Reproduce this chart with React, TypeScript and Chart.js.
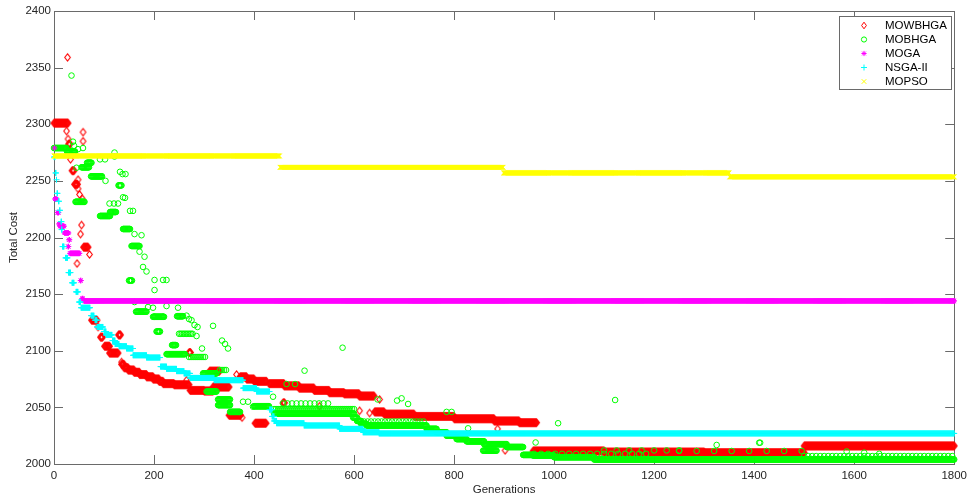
import React, { useEffect, useRef } from 'react';
import { Chart, registerables } from 'chart.js';

Chart.register(...registerables);

type Run = [number, number, number, number?]; // [fromGen, toGen, value, every?]
type Pt = [number, number]; // [gen, value]

const xTickValues = [0, 200, 400, 600, 800, 1000, 1200, 1400, 1600, 1800];
const yTickValues = [2000, 2050, 2100, 2150, 2200, 2250, 2300, 2350, 2400];
const seriesNames = ['MOWBHGA', 'MOBHGA', 'MOGA', 'NSGA-II', 'MOPSO'];
const xTitle = 'Generations';
const yTitle = 'Total Cost';

// MOWBHGA (red diamonds)
const mowbhgaRuns: Run[] = [
  [0, 28, 2301], [29, 32, 2282.5], [36, 40, 2259], [41, 47, 2247], [59, 68, 2191.5],
  [75, 86, 2127], [93, 97, 2112], [101, 111, 2104], [111, 128, 2098], [129, 133, 2114],
  [135, 140, 2088], [140, 148, 2085], [148, 160, 2083], [160, 171, 2081], [171, 185, 2079],
  [185, 198, 2077], [198, 210, 2075], [210, 218, 2073], [218, 240, 2071], [240, 270, 2070],
  [270, 273, 2098.5], [272, 300, 2065], [300, 318, 2064.5], [311, 331, 2082], [318, 350, 2068],
  [350, 373, 2043], [372, 385, 2077], [385, 400, 2075], [400, 425, 2073], [402, 424, 2036],
  [430, 460, 2071], [458, 461, 2054], [460, 490, 2069], [490, 520, 2067], [520, 550, 2065],
  [550, 580, 2063], [580, 610, 2062], [610, 640, 2060], [641, 660, 2046], [660, 720, 2044],
  [720, 800, 2042], [800, 880, 2040], [880, 930, 2038], [930, 965, 2036.5],
  [958, 1100, 2011.5], [1100, 1300, 2010.5], [1300, 1500, 2010], [1500, 1800, 2016],
];
const mowbhgaPoints: Pt[] = [
  [25, 2294], [27, 2359], [28, 2287], [33, 2269], [46, 2177], [48, 2251], [48, 2243], [51, 2238],
  [53, 2203], [55, 2211], [57, 2234], [58, 2293], [58, 2285], [71, 2185], [88, 2121], [135, 2090],
  [265, 2074], [365, 2079], [376, 2041], [531, 2051], [611, 2047], [631, 2045], [651, 2057],
  [887, 2031], [902, 2012],
];

// MOBHGA (green circles)
const mobhgaRuns: Run[] = [
  [0, 25, 2279], [26, 42, 2276], [43, 61, 2231.5], [55, 70, 2262], [66, 75, 2266], [74, 96, 2254],
  [92, 112, 2219], [112, 124, 2222.5], [129, 135, 2246], [138, 152, 2207.5], [150, 156, 2162],
  [155, 171, 2192.5], [164, 185, 2134.5], [198, 220, 2130], [205, 212, 2117], [225, 262, 2097],
  [236, 244, 2105], [246, 258, 2130.5], [250, 278, 2115, 3], [270, 305, 2094.5, 4], [298, 325, 2080],
  [305, 325, 2064], [332, 346, 2083, 4], [328, 352, 2057], [328, 352, 2052], [352, 372, 2046],
  [400, 430, 2051], [440, 600, 2048.5, 4], [440, 600, 2044.5], [458, 552, 2053.5, 9],
  [598, 606, 2041], [606, 614, 2038], [614, 625, 2035.5], [625, 745, 2034], [620, 745, 2037.5, 7],
  [745, 765, 2031], [765, 785, 2028], [785, 805, 2025], [805, 825, 2022], [825, 860, 2020],
  [860, 905, 2017.5], [858, 885, 2011.8], [905, 938, 2015], [938, 958, 2008], [958, 1000, 2007.5],
  [1000, 1080, 2006], [1080, 1800, 2004], [960, 1190, 2009, 14], [1100, 1250, 2012, 25],
  [1250, 1500, 2011.5, 35], [1500, 1800, 2007, 8],
];
const mobhgaPoints: Pt[] = [
  [35, 2343], [38, 2284.6], [40, 2281], [48, 2278], [58, 2279], [45, 2261.6], [92, 2269], [102, 2269],
  [121, 2275], [121, 2271.5], [132, 2258], [137, 2256], [143, 2256], [103, 2250], [138, 2235.5],
  [142, 2235], [111, 2230], [120, 2230], [128, 2230], [152, 2223.5], [158, 2223.5], [161, 2203],
  [175, 2202], [171, 2187.5], [181, 2183], [178, 2174], [185, 2170], [201, 2162.5], [218, 2162.5],
  [225, 2162.5], [201, 2153.6], [161, 2143], [188, 2138.6], [198, 2138], [225, 2139.5], [248, 2138],
  [201, 2130], [218, 2130], [265, 2131], [270, 2128], [275, 2127], [281, 2122.7], [287, 2121],
  [318, 2122], [285, 2113], [296, 2102], [336, 2109], [342, 2106], [348, 2102], [378, 2055],
  [388, 2055], [398, 2050.6], [438, 2059.4], [465, 2070.6], [482, 2070.6], [501, 2082.4],
  [577, 2102.7], [647, 2057], [686, 2056], [695, 2058], [708, 2053], [785, 2046], [795, 2046],
  [828, 2031.5], [963, 2019], [1008, 2036], [1122, 2056.5], [1325, 2016.8], [1410, 2018.8],
  [1412, 2018.8], [1585, 2011], [1620, 2010], [1650, 2009],
];

// MOGA (magenta asterisks)
const mogaRuns: Run[] = [
  [1, 1, 2279], [2, 5, 2234], [7, 9, 2222], [10, 12, 2212], [12, 20, 2210], [21, 29, 2204],
  [28, 29, 2192], [30, 31, 2198], [32, 51, 2186], [53, 54, 2162], [56, 58, 2146], [60, 1800, 2144],
];
const mogaPoints: Pt[] = [];

// NSGA-II (cyan plus)
const nsgaRuns: Run[] = [
  [0, 2, 2271], [3, 4, 2257], [5, 5, 2251], [6, 7, 2239], [9, 10, 2232], [11, 12, 2224],
  [14, 15, 2214], [15, 16, 2207], [17, 20, 2192], [23, 27, 2182], [29, 33, 2169], [36, 40, 2160],
  [44, 48, 2152], [50, 53, 2143], [54, 72, 2138], [74, 80, 2131], [82, 86, 2127], [86, 98, 2121],
  [100, 104, 2117], [104, 116, 2114], [117, 122, 2109], [122, 130, 2106], [130, 145, 2104],
  [145, 158, 2102], [158, 185, 2096], [185, 212, 2094], [213, 225, 2086], [225, 245, 2084],
  [245, 260, 2082], [260, 272, 2080], [272, 320, 2076], [320, 378, 2074], [378, 405, 2067],
  [405, 431, 2064], [431, 436, 2048], [436, 440, 2042], [440, 445, 2038], [445, 500, 2036],
  [500, 571, 2034], [571, 618, 2031], [618, 650, 2028], [650, 1800, 2027],
];
const nsgaPoints: Pt[] = [];

// MOPSO (yellow x)
const mopsoRuns: Run[] = [
  [0, 451, 2272], [452, 898, 2262], [899, 1350, 2257], [1351, 1800, 2253.5],
];
const mopsoPoints: Pt[] = [];

function expand(runs: Run[], pts: Pt[]) {
  const out: { x: number; y: number }[] = [];
  for (const r of runs) {
    const step = r[3] || 1;
    for (let g = r[0]; g <= r[1]; g += step) out.push({ x: g, y: r[2] });
  }
  for (const p of pts) out.push({ x: p[0], y: p[1] });
  return out;
}

const FONT = 'Arial, "Liberation Sans", Helvetica, sans-serif';
const AXIS_COLOR = '#6a6a6a';
const TEXT_COLOR = '#262626';
const COLORS = ['#ff0000', '#00ff00', '#ff00ff', '#00ffff', '#ffff00'];
const MARKERS = ['diamond', 'circle', 'star', 'cross', 'crossRot'];

function makeDiamond(color: string, hw: number, hh: number) {
  const c = document.createElement('canvas');
  c.width = Math.ceil(hw * 2 + 3);
  c.height = Math.ceil(hh * 2 + 3);
  const ctx = c.getContext('2d')!;
  const cx = c.width / 2, cy = c.height / 2;
  ctx.strokeStyle = color;
  ctx.lineWidth = 1.1;
  ctx.beginPath();
  ctx.moveTo(cx, cy - hh);
  ctx.lineTo(cx + hw, cy);
  ctx.lineTo(cx, cy + hh);
  ctx.lineTo(cx - hw, cy);
  ctx.closePath();
  ctx.stroke();
  return c;
}

function drawLegendMarker(ctx: CanvasRenderingContext2D, kind: string, color: string, x: number, y: number) {
  ctx.save();
  ctx.strokeStyle = color;
  ctx.lineWidth = 1;
  ctx.beginPath();
  const r = 2.6;
  if (kind === 'diamond') {
    ctx.moveTo(x, y - 3.3); ctx.lineTo(x + 2.4, y); ctx.lineTo(x, y + 3.3); ctx.lineTo(x - 2.4, y); ctx.closePath();
  } else if (kind === 'circle') {
    ctx.arc(x, y, r, 0, Math.PI * 2);
  } else if (kind === 'star') {
    ctx.moveTo(x - r, y); ctx.lineTo(x + r, y); ctx.moveTo(x, y - r); ctx.lineTo(x, y + r);
    const d = r * 0.72;
    ctx.moveTo(x - d, y - d); ctx.lineTo(x + d, y + d); ctx.moveTo(x - d, y + d); ctx.lineTo(x + d, y - d);
  } else if (kind === 'cross') {
    ctx.moveTo(x - 3, y); ctx.lineTo(x + 3, y); ctx.moveTo(x, y - 3); ctx.lineTo(x, y + 3);
  } else {
    const d = 2.3;
    ctx.moveTo(x - d, y - d); ctx.lineTo(x + d, y + d); ctx.moveTo(x - d, y + d); ctx.lineTo(x + d, y - d);
  }
  ctx.stroke();
  ctx.restore();
}

const boxPlugin = {
  id: 'matlabBox',
  beforeDatasetsDraw(chart: any) {
    const { ctx, chartArea: a, scales } = chart;
    ctx.save();
    ctx.strokeStyle = AXIS_COLOR;
    ctx.lineWidth = 1;
    ctx.strokeRect(Math.round(a.left) + 0.5, Math.round(a.top) + 0.5, Math.round(a.right - a.left), Math.round(a.bottom - a.top));
    const tl = 9;
    ctx.beginPath();
    for (const v of xTickValues) {
      const px = Math.round(scales.x.getPixelForValue(v)) + 0.5;
      ctx.moveTo(px, a.bottom); ctx.lineTo(px, a.bottom - tl);
      ctx.moveTo(px, a.top); ctx.lineTo(px, a.top + tl);
    }
    for (const v of yTickValues) {
      const py = Math.round(scales.y.getPixelForValue(v)) + 0.5;
      ctx.moveTo(a.left, py); ctx.lineTo(a.left + tl, py);
      ctx.moveTo(a.right, py); ctx.lineTo(a.right - tl, py);
    }
    ctx.stroke();
    ctx.restore();
  },
  afterDraw(chart: any) {
    const { ctx } = chart;
    const bx = 839.5, by = 16.5, bw = 112, bh = 73;
    ctx.save();
    ctx.fillStyle = '#ffffff';
    ctx.fillRect(bx, by, bw, bh);
    ctx.strokeStyle = AXIS_COLOR;
    ctx.lineWidth = 1;
    ctx.strokeRect(bx, by, bw, bh);
    ctx.font = `11.5px ${FONT}`;
    ctx.fillStyle = '#000000';
    ctx.textBaseline = 'middle';
    ctx.textAlign = 'left';
    seriesNames.forEach((name, i) => {
      const y = 25.5 + i * 14;
      drawLegendMarker(ctx, MARKERS[i], COLORS[i], 864, y);
      ctx.fillText(name, 885, y + 0.5);
    });
    ctx.restore();
  },
};

export default function App() {
  const ref = useRef<HTMLCanvasElement>(null);
  useEffect(() => {
    if (!ref.current) return;
    const diamond = makeDiamond(COLORS[0], 2.8, 3.6);
    const common = { showLine: false, pointBorderWidth: 1, pointBackgroundColor: 'rgba(0,0,0,0)', clip: false as any };
    const fmt = (v: any) => String(v);
    const chart = new Chart(ref.current, {
      type: 'scatter',
      data: {
        datasets: [
          { ...common, label: seriesNames[0], data: expand(mowbhgaRuns, mowbhgaPoints), pointStyle: diamond as any, pointRadius: 3, borderColor: COLORS[0], pointBorderColor: COLORS[0], order: 5 },
          { ...common, label: seriesNames[1], data: expand(mobhgaRuns, mobhgaPoints), pointStyle: 'circle', pointRadius: 2.8, borderColor: COLORS[1], pointBorderColor: COLORS[1], order: 4 },
          { ...common, label: seriesNames[2], data: expand(mogaRuns, mogaPoints), pointStyle: 'star', pointRadius: 2.8, borderColor: COLORS[2], pointBorderColor: COLORS[2], order: 3 },
          { ...common, label: seriesNames[3], data: expand(nsgaRuns, nsgaPoints), pointStyle: 'cross', pointRadius: 3, borderColor: COLORS[3], pointBorderColor: COLORS[3], order: 2 },
          { ...common, label: seriesNames[4], data: expand(mopsoRuns, mopsoPoints), pointStyle: 'crossRot', pointRadius: 3.3, borderColor: COLORS[4], pointBorderColor: COLORS[4], order: 1 },
        ],
      },
      options: {
        responsive: false,
        devicePixelRatio: 1,
        animation: false,
        events: [],
        layout: { padding: { top: 11, right: 16, left: 0, bottom: 0 } },
        plugins: { legend: { display: false }, tooltip: { enabled: false } },
        scales: {
          x: {
            type: 'linear',
            min: 0,
            max: 1800,
            grid: { display: false, drawTicks: false },
            border: { display: false },
            afterBuildTicks: (s: any) => { s.ticks = xTickValues.map((v) => ({ value: v })); },
            afterFit: (s: any) => { s.height = 35; },
            ticks: { font: { family: FONT, size: 11.5 }, color: TEXT_COLOR, padding: 5, maxRotation: 0, autoSkip: false, callback: fmt },
            title: { display: true, text: xTitle, font: { family: FONT, size: 11.5 }, color: TEXT_COLOR, padding: { top: 0, bottom: 2 } },
          },
          y: {
            type: 'linear',
            min: 2000,
            max: 2400,
            grid: { display: false, drawTicks: false },
            border: { display: false },
            afterBuildTicks: (s: any) => { s.ticks = yTickValues.map((v) => ({ value: v })); },
            afterFit: (s: any) => { s.width = 54; },
            ticks: { font: { family: FONT, size: 11.5 }, color: TEXT_COLOR, padding: 3, autoSkip: false, callback: fmt },
            title: { display: true, text: yTitle, font: { family: FONT, size: 11.5 }, color: TEXT_COLOR, padding: { top: 7, bottom: 0 } },
          },
        },
      },
      plugins: [boxPlugin],
    });
    return () => chart.destroy();
  }, []);
  return (
    <div style={{ position: 'absolute', left: 0, top: 0, width: 972, height: 499, background: '#ffffff' }}>
      <canvas ref={ref} width={972} height={499} style={{ display: 'block' }} />
    </div>
  );
}
